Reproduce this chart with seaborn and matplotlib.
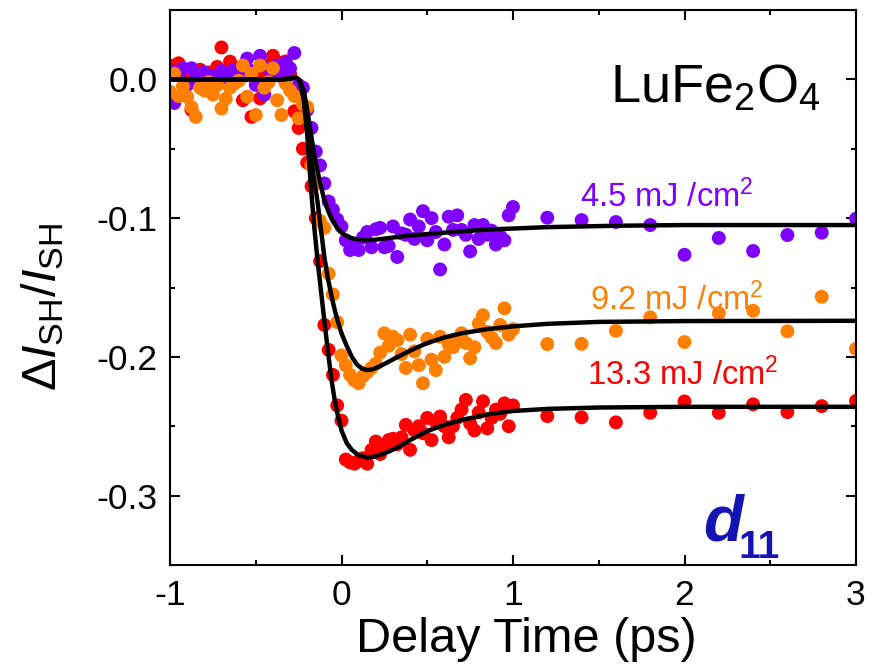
import matplotlib
matplotlib.use("Agg")
import matplotlib.pyplot as plt
from matplotlib.ticker import MultipleLocator
import seaborn as sns
import numpy as np
import pandas as pd

# delay grid of the dense scan (ps), shared by the three fluences
delay_dense = [-1.000, -0.975, -0.950, -0.925, -0.900, -0.875, -0.850, -0.825,
               -0.800, -0.775, -0.750, -0.725, -0.700, -0.675, -0.650, -0.625,
               -0.600, -0.575, -0.550, -0.525, -0.500, -0.475, -0.450, -0.425,
               -0.400, -0.375, -0.350, -0.325, -0.300, -0.275, -0.250, -0.225,
               -0.200, -0.175, -0.150, -0.125, -0.100, -0.075, -0.050, -0.025,
               0.000, 0.025, 0.050, 0.075, 0.100, 0.125, 0.150, 0.175,
               0.200, 0.225, 0.250, 0.275, 0.300, 0.325, 0.350, 0.375,
               0.400, 0.425, 0.450, 0.475, 0.500, 0.525, 0.550, 0.575,
               0.600, 0.625, 0.650, 0.675, 0.700, 0.725, 0.750, 0.775,
               0.800, 0.825, 0.850, 0.875, 0.900, 0.925, 0.950, 0.975, 1.000]
delay_sparse = [1.2, 1.4, 1.6, 1.8, 2.0, 2.2, 2.4, 2.6, 2.8, 3.0]

# 4.5 mJ/cm2
purple_dense = [0.006, -0.017, 0.004, 0.008, -0.004, 0.008, 0.001, -0.003,
                0.005, 0.002, -0.005, 0.003, 0.006, -0.002, 0.004, 0.007,
                0.001, 0.009, 0.015, 0.006, -0.004, 0.017, -0.011, 0.008,
                0.004, 0.010, 0.002, 0.012, 0.008, 0.019, -0.004, -0.006,
                -0.022, -0.035, -0.052, -0.062, -0.075, -0.088, -0.094, -0.101,
                -0.106, -0.116, -0.123, -0.119, -0.123, -0.114, -0.110, -0.121,
                -0.108, -0.107, -0.121, -0.120, -0.106, -0.128, -0.111, -0.112,
                -0.101, -0.115, -0.106, -0.095, -0.116, -0.100, -0.110, -0.137,
                -0.119, -0.099, -0.1085, -0.098, -0.1085, -0.112, -0.124, -0.105,
                -0.115, -0.105, -0.112, -0.109, -0.119, -0.113, -0.116, -0.098, -0.092]
purple_sparse = [-0.0997, -0.1014, -0.1028, -0.105, -0.1264,
                 -0.1143, -0.1237, -0.1122, -0.1105, -0.1004]

# 9.2 mJ/cm2
orange_dense = [-0.009, 0.004, -0.012, -0.005, -0.0125, -0.020, -0.027, -0.006,
                -0.008, -0.002, -0.011, -0.004, -0.021, -0.014, -0.006, -0.003,
                -0.001, 0.010, -0.0125, 0.004, -0.0257, 0.010, -0.006, -0.002,
                0.008, -0.015, -0.0257, -0.003, -0.008, -0.012, -0.028, -0.018,
                -0.020, -0.062, -0.075, -0.102, -0.107, -0.140, -0.155, -0.175,
                -0.199, -0.206, -0.213, -0.217, -0.219, -0.214, -0.211, -0.208,
                -0.205, -0.197, -0.183, -0.192, -0.1855, -0.188, -0.198, -0.208,
                -0.184, -0.196, -0.206, -0.219, -0.187, -0.202, -0.2095, -0.1855,
                -0.200, -0.191, -0.193, -0.189, -0.183, -0.190, -0.201, -0.193,
                -0.176, -0.170, -0.182, -0.186, -0.190, -0.177, -0.165, -0.184, -0.180]
orange_sparse = [-0.1908, -0.1906, -0.1812, -0.1715, -0.1893,
                 -0.1686, -0.1668, -0.1816, -0.1567, -0.1942]

# 13.3 mJ/cm2
red_dense = [0.010, 0.006, 0.0116, 0.004, -0.002, -0.022, 0.003, 0.007,
             0.001, 0.005, 0.002, 0.009, 0.023, 0.006, 0.0128, 0.004,
             0.008, -0.015, 0.003, -0.027, 0.006, -0.0137, 0.005, 0.010,
             0.017, 0.006, 0.012, 0.013, 0.004, -0.023, -0.035, -0.050,
             -0.060, -0.077, -0.100, -0.131, -0.177, -0.195, -0.213, -0.235,
             -0.246, -0.274, -0.276, -0.277, -0.275, -0.273, -0.277, -0.267,
             -0.261, -0.270, -0.264, -0.260, -0.259, -0.263, -0.258, -0.249,
             -0.267, -0.253, -0.250, -0.255, -0.244, -0.260, -0.247, -0.243,
             -0.250, -0.258, -0.250, -0.244, -0.238, -0.231, -0.248, -0.253,
             -0.240, -0.232, -0.2515, -0.244, -0.238, -0.241, -0.2335, -0.250, -0.235]
red_sparse = [-0.2427, -0.2436, -0.2472, -0.2403, -0.2321,
              -0.2403, -0.2342, -0.2398, -0.2355, -0.2317]

# fit curves, vertices
fit_purple_x = [-1.0, -0.35, -0.30, -0.27, -0.25, -0.24, -0.22, -0.20, -0.18, -0.16,
                -0.14, -0.12, -0.10, -0.08, -0.06, -0.04, -0.02, 0.0, 0.03, 0.06,
                0.10, 0.14, 0.2, 0.3, 0.4, 0.5, 0.7, 0.9, 1.2, 1.6, 2.0, 3.0]
fit_purple_y = [0.0, 0.0, 0.0005, 0.0015, 0.0, -0.002, -0.008, -0.022, -0.038, -0.053,
                -0.066, -0.077, -0.087, -0.094, -0.100, -0.104, -0.108, -0.1105, -0.113, -0.1145,
                -0.1155, -0.116, -0.1155, -0.114, -0.1125, -0.1115, -0.1095, -0.108, -0.1065,
                -0.1055, -0.105, -0.105]
fit_orange_x = [-1.0, -0.35, -0.30, -0.27, -0.25, -0.24, -0.22, -0.20, -0.18, -0.16,
                -0.14, -0.12, -0.10, -0.08, -0.06, -0.04, -0.02, 0.0, 0.03, 0.06,
                0.09, 0.12, 0.15, 0.18, 0.22, 0.26, 0.32, 0.4, 0.5, 0.6, 0.7,
                0.85, 1.0, 1.2, 1.5, 2.0, 3.0]
fit_orange_y = [0.0, 0.0, 0.0005, 0.0015, 0.0, -0.003, -0.013, -0.035, -0.055, -0.072,
                -0.088, -0.108, -0.128, -0.143, -0.155, -0.166, -0.175, -0.183, -0.192, -0.200,
                -0.2055, -0.2085, -0.2095, -0.209, -0.207, -0.2045, -0.2005, -0.1955, -0.190,
                -0.186, -0.183, -0.180, -0.178, -0.1762, -0.1748, -0.1742, -0.174]
fit_red_x = [-1.0, -0.35, -0.30, -0.27, -0.25, -0.24, -0.22, -0.20, -0.18, -0.16,
             -0.14, -0.12, -0.10, -0.08, -0.06, -0.04, -0.02, 0.0, 0.03, 0.06,
             0.10, 0.15, 0.19, 0.24, 0.28, 0.34, 0.4, 0.5, 0.6, 0.7,
             0.85, 1.0, 1.2, 1.5, 2.0, 3.0]
fit_red_y = [0.0, 0.0, 0.0005, 0.0015, 0.0, -0.003, -0.015, -0.040, -0.075, -0.105,
             -0.130, -0.152, -0.174, -0.195, -0.215, -0.231, -0.243, -0.253, -0.262, -0.267,
             -0.271, -0.2725, -0.272, -0.270, -0.268, -0.2645, -0.260, -0.2535, -0.249, -0.2455,
             -0.2415, -0.239, -0.2375, -0.2365, -0.236, -0.236]

fluence_labels = ["13.3 mJ /cm$^2$", "4.5 mJ /cm$^2$", "9.2 mJ /cm$^2$"]
colors = {"13.3": "#ff0000", "4.5": "#8000ff", "9.2": "#ff8000"}

x_ticks = [-1, 0, 1, 2, 3]
x_ticklabels = ["-1", "0", "1", "2", "3"]
y_ticks = [-0.3, -0.2, -0.1, 0.0]
y_ticklabels = ["-0.3", "-0.2", "-0.1", "0.0"]

sns.set_style("ticks")
plt.rcParams["font.family"] = ["Liberation Sans", "DejaVu Sans"]
plt.rcParams["mathtext.fontset"] = "custom"
plt.rcParams["mathtext.rm"] = "Liberation Sans"
plt.rcParams["mathtext.it"] = "Liberation Sans:italic"
plt.rcParams["mathtext.bf"] = "Liberation Sans:bold"
plt.rcParams["axes.unicode_minus"] = False
plt.rcParams["text.color"] = "black"
plt.rcParams["axes.labelcolor"] = "black"

delay_all = delay_dense + delay_sparse
# red drawn first, then purple, then orange on top
df = pd.concat([
    pd.DataFrame({"delay": delay_all, "signal": red_dense + red_sparse, "fluence": "13.3"}),
    pd.DataFrame({"delay": delay_all, "signal": purple_dense + purple_sparse, "fluence": "4.5"}),
    pd.DataFrame({"delay": delay_all, "signal": orange_dense + orange_sparse, "fluence": "9.2"}),
], ignore_index=True)

fig = plt.figure(figsize=(8.69, 6.70), dpi=100)
ax = fig.add_axes([170 / 869, 1 - 565 / 670, 686 / 869, 555 / 670])

sns.scatterplot(data=df, x="delay", y="signal", hue="fluence", palette=colors,
                s=100, linewidth=0, alpha=1, legend=False, ax=ax, zorder=2)

for fx, fy in [(fit_purple_x, fit_purple_y), (fit_orange_x, fit_orange_y),
               (fit_red_x, fit_red_y)]:
    sns.lineplot(x=fx, y=fy, color="black", lw=3.2, sort=False, estimator=None,
                 ax=ax, zorder=3)

ax.set_xlim(-1, 3)
ax.set_ylim(-0.35, 0.05)
ax.set_xticks(x_ticks)
ax.set_xticklabels(x_ticklabels)
ax.set_yticks(y_ticks)
ax.set_yticklabels(y_ticklabels)
ax.xaxis.set_minor_locator(MultipleLocator(0.5))
ax.yaxis.set_minor_locator(MultipleLocator(0.05))
ax.tick_params(which="both", direction="in", top=True, right=True, width=1.5,
               labelsize=25.5, color="black", labelcolor="black")
ax.tick_params(which="major", length=7)
ax.tick_params(which="minor", length=3.5)
ax.tick_params(axis="x", pad=10)
ax.tick_params(axis="y", pad=9)
for sp in ax.spines.values():
    sp.set_linewidth(1.5)
    sp.set_color("black")
    sp.set_visible(True)

ax.set_xlabel("Delay Time (ps)", fontsize=35, color="black")
ax.set_ylabel(r"$\Delta\mathit{I}_{\mathrm{SH}}/\mathit{I}_{\mathrm{SH}}$", fontsize=35,
              color="black")
ax.xaxis.set_label_coords(0.519, -0.093)
ax.yaxis.set_label_coords(-0.152, 0.465)

ax.text(1.566, -0.017, r"LuFe$_2$O$_4$", fontsize=39, color="black")
ax.text(1.39, -0.092, fluence_labels[1], fontsize=23.5, color=colors["4.5"])
ax.text(1.449, -0.1663, fluence_labels[2], fontsize=23.5, color=colors["9.2"])
ax.text(1.431, -0.2203, fluence_labels[0], fontsize=23.5, color=colors["13.3"])
ax.text(2.108, -0.332, "d", fontsize=47, color="#1414b4", fontweight="bold",
        fontstyle="italic")
ax.text(2.312, -0.345, "11", fontsize=28, color="#1414b4", fontweight="bold")

fig.savefig("out.png", dpi=100)
